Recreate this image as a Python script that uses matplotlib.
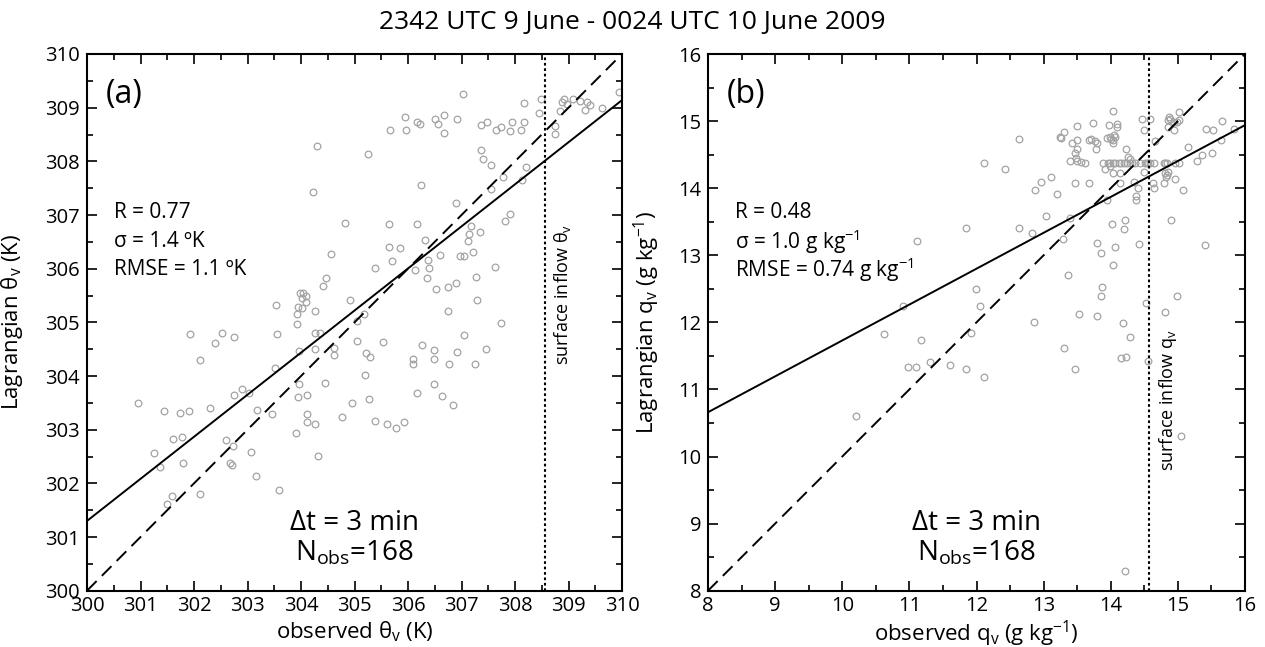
import matplotlib
matplotlib.use("Agg")
import matplotlib.pyplot as plt
from matplotlib.ticker import MultipleLocator

plt.rcParams['font.family'] = ['Open Sans', 'DejaVu Sans']
plt.rcParams['mathtext.fontset'] = 'custom'
plt.rcParams['mathtext.rm'] = 'Open Sans'
plt.rcParams['mathtext.default'] = 'regular'

title = "2342 UTC 9 June - 0024 UTC 10 June 2009"

# (a) virtual potential temperature, observed vs Lagrangian (K)
theta_obs = [
    304.29, 304.22, 304.82, 304.57, 304.47, 304.42, 304.91, 303.54, 303.99, 304.04,
    304.10, 304.01, 304.09, 303.95, 304.01, 303.92, 304.26,
    307.02, 305.94, 305.66, 305.97, 306.16, 306.23, 306.50, 306.57, 306.67, 306.67,
    306.92, 307.36, 307.48, 307.64, 307.73, 307.90, 307.94, 308.12, 308.16, 308.16,
    308.44, 308.48, 308.75, 308.75, 308.85, 308.87, 308.91, 308.97, 309.09, 309.22,
    309.30, 309.34, 309.41, 309.63, 309.94, 305.25, 307.37, 307.41, 307.56, 308.21,
    308.13, 307.78, 307.56, 306.25, 306.89, 307.90, 307.81, 305.65, 306.16, 307.17,
    307.14, 307.35, 307.13, 306.32, 305.64, 305.85, 305.71, 307.22, 306.59, 306.97,
    307.04, 306.38, 306.40, 305.39, 306.14, 307.62, 306.36, 307.27, 306.89, 306.74,
    306.53, 307.29, 306.75, 305.17,
    303.92, 303.55, 304.26, 304.35, 301.92, 302.53, 302.39, 302.74, 302.12, 303.97,
    304.27, 304.61, 304.62, 303.51, 303.96, 303.94, 304.12, 304.44, 304.95, 304.77,
    304.11, 304.12, 304.27, 303.90, 304.32, 302.90, 302.75, 303.03, 303.17, 303.45,
    302.30, 300.96, 301.44, 301.74, 301.90, 301.60, 301.77, 301.25, 301.37, 301.80,
    302.60, 302.73, 302.67, 302.71, 303.07, 303.16, 303.58, 302.11, 301.59, 301.50,
    307.74, 305.04, 305.04, 305.53, 305.22, 305.29, 305.19, 305.28, 305.38, 305.61,
    305.78, 305.93, 306.27, 306.09, 306.10, 306.48, 306.49, 306.16, 306.48, 306.64,
    306.84, 306.76, 306.92, 307.04, 307.26, 307.46,
]
theta_lag = [
    308.28, 307.43, 306.85, 306.27, 305.83, 305.67, 305.42, 305.32, 305.54, 305.55,
    305.50, 305.46, 305.37, 305.29, 305.26, 305.15, 305.21,
    309.25, 308.83, 308.59, 308.58, 308.73, 308.69, 308.79, 308.69, 308.86, 308.53,
    308.79, 308.68, 308.73, 308.59, 308.64, 308.56, 308.74, 308.58, 308.73, 309.09,
    308.91, 309.17, 308.66, 308.51, 308.94, 309.10, 309.17, 309.06, 309.17, 309.13,
    308.96, 309.10, 309.05, 308.99, 309.29, 308.13, 308.21, 308.04, 307.94, 307.90,
    307.66, 307.71, 307.49, 307.56, 307.23, 307.01, 306.88, 306.83, 306.84, 306.79,
    306.65, 306.68, 306.52, 306.53, 306.41, 306.39, 306.14, 306.32, 306.26, 306.23,
    306.23, 306.16, 306.02, 306.01, 305.97, 306.04, 305.83, 305.85, 305.74, 305.65,
    305.62, 305.42, 305.22, 305.15,
    304.96, 304.78, 304.81, 304.81, 304.79, 304.81, 304.61, 304.73, 304.30, 304.46,
    304.50, 304.52, 304.40, 304.15, 303.86, 303.60, 303.65, 303.87, 303.49, 303.23,
    303.29, 303.15, 303.10, 302.93, 302.51, 303.76, 303.65, 303.68, 303.36, 303.30,
    303.40, 303.49, 303.35, 303.31, 303.35, 302.82, 302.86, 302.57, 302.30, 302.38,
    302.80, 302.69, 302.38, 302.34, 302.59, 302.13, 301.88, 301.80, 301.76, 301.62,
    304.98, 305.02, 304.65, 304.63, 304.42, 304.35, 304.02, 303.58, 303.17, 303.10,
    303.04, 303.15, 304.58, 304.32, 304.23, 304.48, 304.31, 303.69, 303.86, 303.63,
    303.46, 304.22, 304.45, 304.76, 304.22, 304.51,
]

# (b) water vapour mixing ratio, observed vs Lagrangian (g/kg)
q_obs = [
    12.11, 11.84, 11.11, 11.99, 12.05, 10.90,
    14.04, 12.42, 12.63, 13.24, 13.26, 13.30, 13.50, 13.73, 13.97, 14.10,
    14.09, 14.47, 14.58, 14.87, 14.89, 14.86, 15.01, 14.99, 15.02, 14.94,
    14.85, 14.94, 14.49, 14.66, 15.42, 15.53, 15.66, 15.84, 15.64, 15.15,
    15.36, 15.29, 15.51,
    13.42, 13.49, 13.49, 13.46, 13.48, 13.50, 13.40, 13.56, 13.62,
    13.68, 13.71, 13.77, 13.79, 13.78,
    13.95, 13.99, 14.05, 14.07, 14.03, 14.04, 14.01,
    14.22, 14.25, 14.29,
    13.88, 13.96, 13.99, 14.03, 14.07, 14.12, 14.15, 14.19, 14.24, 14.28,
    14.32, 14.36, 14.44, 14.51, 14.54, 14.56, 14.59, 14.64, 14.79, 14.81,
    14.84, 14.96, 15.01,
    13.92, 13.99, 14.03, 14.14, 14.49, 14.81, 14.84, 14.82, 14.80, 14.85,
    14.96, 15.07, 14.63, 14.65, 14.14, 14.34, 14.41, 14.38, 14.37, 13.94,
    13.68, 13.47, 13.11, 12.96, 12.87, 13.20, 13.03, 13.40, 12.64, 12.83,
    13.29, 14.02, 14.21, 14.19, 14.90, 13.79, 13.85, 14.07, 14.42, 14.03,
    15.41, 13.37, 13.87, 13.86, 14.98, 14.52, 14.81, 13.53, 13.80,
    10.62, 11.18, 10.98, 11.10, 11.31, 11.60, 11.84, 11.92, 12.11, 10.21,
    12.85, 14.18, 14.29, 14.16, 14.23, 13.31, 13.46, 14.55, 15.05, 14.21,
]
q_lag = [
    14.38, 13.41, 13.21, 12.49, 12.24, 12.25,
    15.15, 14.29, 14.73, 14.77, 14.75, 14.83, 14.93, 14.97, 14.94, 14.96,
    14.91, 15.03, 15.03, 15.06, 15.03, 15.02, 15.14, 14.99, 15.01, 14.99,
    14.91, 14.87, 14.86, 14.71, 14.88, 14.87, 15.00, 14.88, 14.72, 14.61,
    14.49, 14.41, 14.53,
    14.68, 14.72, 14.59, 14.52, 14.45, 14.41, 14.40, 14.39, 14.37,
    14.72, 14.73, 14.71, 14.67, 14.58,
    14.75, 14.77, 14.79, 14.77, 14.72, 14.68, 14.73,
    14.59, 14.46, 14.43,
    14.38, 14.38, 14.38, 14.38, 14.38, 14.38, 14.38, 14.38, 14.38, 14.38,
    14.38, 14.38, 14.38, 14.38, 14.38, 14.38, 14.38, 14.38, 14.38, 14.38,
    14.38, 14.38, 14.38,
    14.29, 14.33, 14.22, 14.22, 14.24, 14.22, 14.19, 14.16, 14.08, 14.24,
    14.13, 13.97, 14.07, 14.01, 14.07, 14.09, 14.01, 13.89, 13.82, 13.82,
    14.08, 14.07, 14.17, 14.09, 13.97, 13.92, 13.58, 13.55, 13.41, 13.33,
    13.24, 13.46, 13.52, 13.39, 13.52, 13.19, 13.03, 13.12, 13.17, 12.85,
    13.16, 12.70, 12.53, 12.40, 12.40, 12.29, 12.16, 12.12, 12.09,
    11.83, 11.74, 11.33, 11.33, 11.41, 11.36, 11.31, 11.84, 11.19, 10.61,
    12.00, 11.99, 11.78, 11.47, 11.49, 11.62, 11.30, 11.43, 10.31, 8.29,
]

# regression lines (value at left edge, slope) and surface inflow values
fit_a = (301.30, 0.784)
fit_b = (10.66, 0.535)
inflow_a = 308.57
inflow_b = 14.57

panels = [
    dict(x=theta_obs, y=theta_lag, lim=(300, 310), fit=fit_a, inflow=inflow_a,
         tag="(a)", stats=["R = 0.77", "σ = 1.4 ºK", "RMSE = 1.1 ºK"],
         xlabel="observed θ$_v$ (K)", ylabel="Lagrangian θ$_v$ (K)",
         inflow_label="surface inflow θ$_v$", inflow_pos=(0.888, 0.553),
         rect=[87/1265, 1-590.7/647, 535/1265, 536.7/647], ylab_x=-0.115),
    dict(x=q_obs, y=q_lag, lim=(8, 16), fit=fit_b, inflow=inflow_b,
         tag="(b)", stats=["R = 0.48", "σ = 1.0 g kg$^{-1}$", "RMSE = 0.74 g kg$^{-1}$"],
         xlabel="observed q$_v$ (g kg$^{-1}$)", ylabel="Lagrangian q$_v$ (g kg$^{-1}$)",
         inflow_label="surface inflow q$_v$", inflow_pos=(0.857, 0.355),
         rect=[708/1265, 1-590.7/647, 537/1265, 536.7/647], ylab_x=-0.086),
]

fig = plt.figure(figsize=(12.65, 6.47), dpi=100)
fig.text(0.5, 1-22/647, title, ha="center", va="center", fontsize=19)

for p in panels:
    ax = fig.add_axes(p["rect"])
    lo, hi = p["lim"]
    ax.plot(p["x"], p["y"], "o", mfc="none", mec="#a3a3a3", ms=4.8, mew=0.9, zorder=2)
    ax.plot([lo, hi], [lo, hi], color="black", lw=1.4, ls=(0, (7, 3.8)), zorder=3)
    y0, slope = p["fit"]
    ax.plot([lo, hi], [y0, y0 + slope * (hi - lo)], color="black", lw=1.4, zorder=3)
    ax.axvline(p["inflow"], color="black", lw=1.5, ls=(0, (1.3, 1.3)), zorder=3)

    ax.set_xlim(lo, hi)
    ax.set_ylim(lo, hi)
    ax.xaxis.set_major_locator(MultipleLocator(1))
    ax.yaxis.set_major_locator(MultipleLocator(1))
    ax.xaxis.set_minor_locator(MultipleLocator(0.5))
    ax.yaxis.set_minor_locator(MultipleLocator(0.5))
    ax.tick_params(which="both", direction="in", top=True, right=True, width=1.2,
                   labelsize=14.5, pad=4)
    ax.tick_params(axis="y", pad=5)
    ax.tick_params(which="major", length=7)
    ax.tick_params(which="minor", length=4.3)
    for s in ax.spines.values():
        s.set_linewidth(1.5)

    ax.set_xlabel(p["xlabel"], fontsize=16, labelpad=2)
    ax.set_ylabel(p["ylabel"], fontsize=16)
    ax.yaxis.set_label_coords(p["ylab_x"], 0.5)

    ax.text(0.035, 0.924, p["tag"], transform=ax.transAxes, fontsize=23,
            ha="left", va="center")
    for i, s in enumerate(p["stats"]):
        ax.text(0.05, 0.704 - 0.053 * i, s, transform=ax.transAxes, fontsize=15,
                ha="left", va="center")
    ax.text(0.5, 0.113, "Δt = 3 min", transform=ax.transAxes, fontsize=20,
            ha="center", va="baseline")
    ax.text(0.5, 0.057, "N$_{obs}$=168", transform=ax.transAxes, fontsize=20,
            ha="center", va="baseline")
    ax.text(p["inflow_pos"][0], p["inflow_pos"][1], p["inflow_label"],
            transform=ax.transAxes, fontsize=13, rotation=90,
            ha="center", va="center")

fig.savefig("out.png", dpi=100)
